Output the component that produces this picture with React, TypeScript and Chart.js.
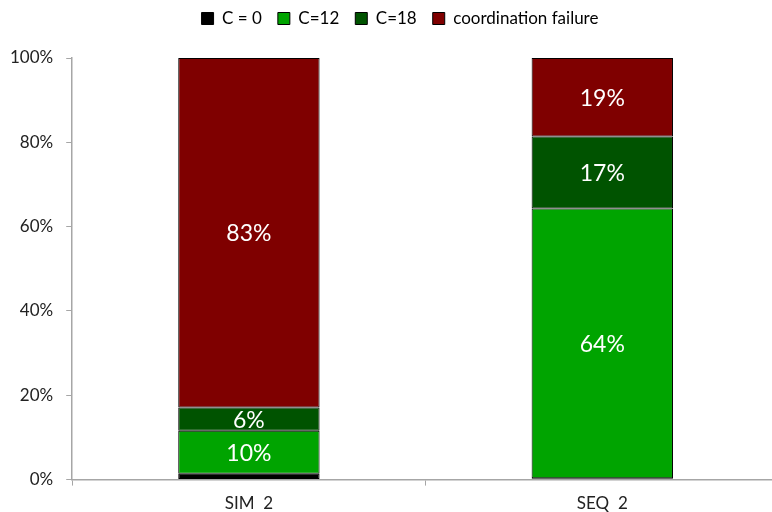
import React, { useEffect, useRef } from "react";
import { Chart, registerables } from "chart.js";

Chart.register(...registerables);

const categories = ["SIM  2", "SEQ  2"];
const seriesNames = ["C = 0", "C=12", "C=18", "coordination failure"];
const c0 = [1.4, 0.3];
const c12 = [10.2, 64.0];
const c18 = [5.5, 17.1];
const failure = [82.9, 18.6];
const colors = ["#000000", "#00A400", "#005300", "#7F0000"];
const showLabel = [false, true, true, true];
const yTicks = [0, 20, 40, 60, 80, 100];

const FONT = "Lato, 'Open Sans', sans-serif";

const labelPlugin = {
  id: "barLabels",
  beforeLayout(chart: any) {
    const lg = chart.legend;
    if (lg && !lg._patched) {
      const origFit = lg.fit;
      lg.fit = function () {
        origFit.call(this);
        this.height += 15;
      };
      const origDraw = lg.draw;
      lg.draw = function () {
        const c = this.ctx;
        c.save();
        c.translate(12, -6);
        origDraw.call(this);
        c.restore();
      };
      lg._patched = true;
    }
  },
  afterDatasetsDraw(chart: any) {
    const ctx = chart.ctx;
    ctx.save();
    ctx.fillStyle = "#ffffff";
    ctx.font = `23px ${FONT}`;
    ctx.textAlign = "center";
    ctx.textBaseline = "middle";
    chart.data.datasets.forEach((ds: any, di: number) => {
      if (!showLabel[di]) return;
      const meta = chart.getDatasetMeta(di);
      meta.data.forEach((bar: any, i: number) => {
        const v = ds.data[i];
        const y = (bar.y + bar.base) / 2;
        ctx.fillText(Math.round(v) + "%", bar.x, y + 1);
      });
    });
    ctx.restore();
  },
};

export default function App() {
  const ref = useRef<HTMLCanvasElement>(null);
  useEffect(() => {
    document.body.style.margin = "0";
    document.body.style.overflow = "hidden";
    const values = [c0, c12, c18, failure];
    const chart = new Chart(ref.current!, {
      type: "bar",
      data: {
        labels: categories,
        datasets: seriesNames.map((name, i) => ({
          label: name,
          data: values[i],
          backgroundColor: colors[i],
          borderColor: "#000000",
          borderWidth: 1,
          borderSkipped: false,
          categoryPercentage: 0.4,
          barPercentage: 1.0,
        })),
      },
      options: {
        animation: false,
        responsive: false,
        maintainAspectRatio: false,
        layout: { padding: { top: 0, right: 0, left: 0, bottom: -10 } },
        plugins: {
          legend: {
            position: "top",
            labels: {
              boxWidth: 12,
              boxHeight: 12,
              padding: 16,
              color: "#000000",
              font: { family: FONT, size: 17 },
            },
          },
          tooltip: { enabled: false },
        },
        scales: {
          x: {
            stacked: true,
            offset: true,
            grid: {
              display: true,
              drawOnChartArea: false,
              offset: true,
              color: "#a6a6a6",
              tickLength: 6,
            },
            border: { color: "#a6a6a6", width: 1.5 },
            ticks: {
              color: "#222222",
              font: { family: FONT, size: 17 },
              padding: 8,
            },
          },
          y: {
            stacked: true,
            min: 0,
            max: 100,
            afterBuildTicks: (axis: any) => {
              axis.ticks = yTicks.map((v) => ({ value: v }));
            },
            grid: {
              display: true,
              drawOnChartArea: false,
              color: "#a6a6a6",
              tickLength: 6,
            },
            border: { color: "#a6a6a6", width: 1.5 },
            ticks: {
              color: "#222222",
              font: { family: FONT, size: 17 },
              padding: 13,
              callback: (v: any) => v + "%",
            },
          },
        },
      },
      plugins: [labelPlugin],
    });
    return () => chart.destroy();
  }, []);
  return (
    <div style={{ width: 772, height: 512, overflow: "hidden" }}>
      <canvas
        ref={ref}
        width={782}
        height={512}
        style={{ width: 782, height: 512, marginLeft: -3, display: "block" }}
      />
    </div>
  );
}
